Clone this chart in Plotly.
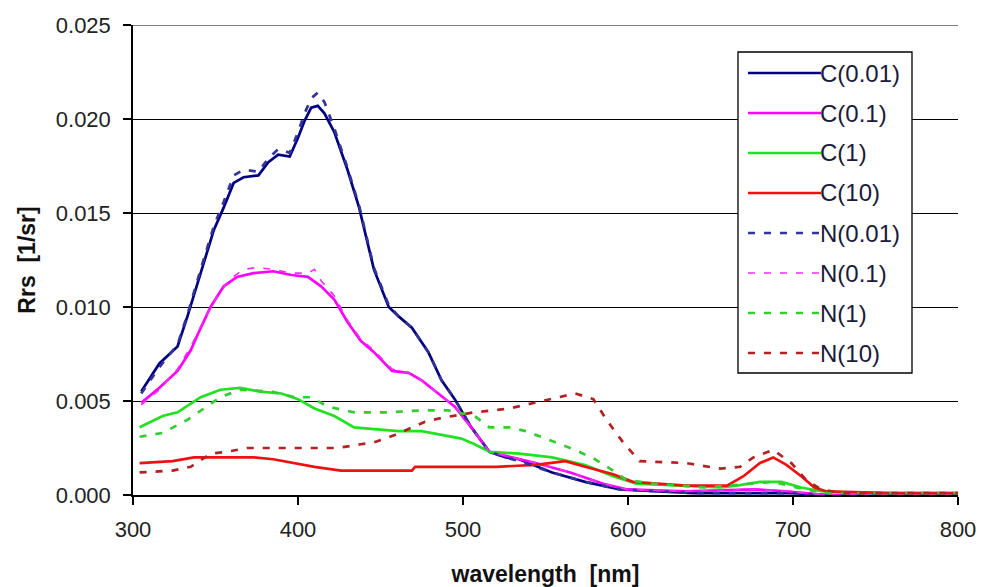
import plotly.graph_objects as go

# ---------------- data ----------------
wl_c001 = [305, 316, 327, 333, 341, 349, 355, 361, 367, 376, 382, 388, 395, 400, 404, 408, 412, 416, 422, 430,
           437, 446, 455, 461, 469, 479, 487, 495, 505, 516, 526, 534, 554, 574, 595, 615, 640, 670, 700, 720, 760, 800]
rrs_c001 = [0.0055, 0.0070, 0.0079, 0.0095, 0.0118, 0.0141, 0.0153, 0.0166, 0.0169, 0.0170, 0.0177, 0.0181, 0.0180,
            0.0190, 0.0199, 0.0206, 0.0207, 0.0203, 0.0193, 0.0173, 0.0153, 0.0120, 0.0100, 0.0095, 0.0089, 0.0076,
            0.0061, 0.0051, 0.0036, 0.0023, 0.0020, 0.0019, 0.0012, 0.0007, 0.0003, 0.0002, 0.0001, 0.0001, 0.0001,
            0.0000, 0.0000, 0.0000]

wl_n001 = wl_c001
rrs_n001 = [0.0054, 0.0068, 0.0080, 0.0096, 0.0120, 0.0143, 0.0156, 0.0170, 0.0173, 0.0172, 0.0179, 0.0184, 0.0182,
            0.0193, 0.0203, 0.0211, 0.0214, 0.0209, 0.0195, 0.0174, 0.0154, 0.0121, 0.0101, 0.0095, 0.0089, 0.0076,
            0.0061, 0.0051, 0.0036, 0.0023, 0.0020, 0.0018, 0.0012, 0.0007, 0.0003, 0.0002, 0.0001, 0.0001, 0.0001,
            0.0000, 0.0000, 0.0000]

wl_c01 = [305, 316, 327, 335, 339, 347, 355, 363, 373, 385, 396, 406, 414, 422, 430, 438, 446, 457, 467, 475, 485,
          495, 505, 516, 544, 565, 585, 599, 635, 676, 696, 720, 760, 800]
rrs_c01 = [0.0049, 0.0057, 0.0066, 0.0077, 0.0085, 0.0100, 0.0111, 0.0116, 0.0118, 0.0119, 0.0117, 0.0116, 0.0111,
           0.0104, 0.0092, 0.0082, 0.0076, 0.0066, 0.0065, 0.0061, 0.0054, 0.0047, 0.0036, 0.0023, 0.0017, 0.0012,
           0.0006, 0.0003, 0.0002, 0.0003, 0.0002, 0.0000, 0.0000, 0.0000]

wl_n01 = [305, 316, 327, 335, 343, 351, 359, 367, 375, 385, 396, 406, 410, 414, 422, 430, 438, 446, 457, 467, 475,
          485, 495, 505, 516, 544, 565, 585, 599, 635, 676, 696, 720, 760, 800]
rrs_n01 = [0.0048, 0.0056, 0.0067, 0.0079, 0.0093, 0.0106, 0.0115, 0.0120, 0.0121, 0.0120, 0.0118, 0.0118, 0.0120,
           0.0114, 0.0106, 0.0093, 0.0083, 0.0077, 0.0067, 0.0065, 0.0061, 0.0054, 0.0047, 0.0036, 0.0023, 0.0017,
           0.0012, 0.0006, 0.0003, 0.0002, 0.0003, 0.0002, 0.0000, 0.0000, 0.0000]

wl_c1 = [304, 318, 327, 341, 353, 365, 377, 390, 400, 410, 422, 434, 446, 461, 475, 487, 499, 507, 516, 534, 554,
         574, 591, 605, 635, 656, 666, 680, 693, 705, 717, 740, 800]
rrs_c1 = [0.0036, 0.0042, 0.0044, 0.0052, 0.0056, 0.0057, 0.0055, 0.0054, 0.0051, 0.0046, 0.0042, 0.0036, 0.0035,
          0.0034, 0.0034, 0.0032, 0.0030, 0.0027, 0.0023, 0.0022, 0.0020, 0.0016, 0.0010, 0.0006, 0.0005, 0.0004,
          0.0005, 0.0007, 0.0007, 0.0004, 0.0002, 0.0001, 0.0001]

wl_n1 = [304, 318, 333, 345, 353, 365, 384, 398, 408, 418, 434, 455, 475, 491, 507, 516, 528, 538, 550, 568, 580,
         591, 599, 615, 646, 676, 688, 707, 720, 800]
rrs_n1 = [0.0031, 0.0033, 0.0040, 0.0047, 0.0052, 0.0056, 0.0055, 0.0052, 0.0052, 0.0047, 0.0044, 0.0044, 0.0045,
          0.0045, 0.0042, 0.0036, 0.0036, 0.0034, 0.0030, 0.0024, 0.0019, 0.0013, 0.0008, 0.0006, 0.0004, 0.0006,
          0.0007, 0.0003, 0.0001, 0.0001]

wl_c10 = [304, 324, 337, 353, 373, 385, 398, 410, 426, 446, 469, 471, 495, 520, 544, 562, 574, 591, 603, 635, 660,
          670, 680, 688, 696, 705, 713, 720, 760, 800]
rrs_c10 = [0.0017, 0.0018, 0.0020, 0.0020, 0.0020, 0.0019, 0.0017, 0.0015, 0.0013, 0.0013, 0.0013, 0.0015, 0.0015,
           0.0015, 0.0016, 0.0018, 0.0015, 0.0011, 0.0007, 0.0005, 0.0005, 0.0010, 0.0017, 0.0020, 0.0016, 0.0010,
           0.0004, 0.0002, 0.0001, 0.0001]

wl_n10 = [304, 324, 335, 347, 357, 369, 394, 424, 438, 446, 459, 467, 477, 487, 507, 528, 548, 558, 568, 579, 587,
          597, 607, 635, 656, 668, 676, 688, 699, 708, 717, 730, 800]
rrs_n10 = [0.0012, 0.0013, 0.0015, 0.0022, 0.0023, 0.0025, 0.0025, 0.0025, 0.0027, 0.0028, 0.0032, 0.0035, 0.0039,
           0.0041, 0.0044, 0.0046, 0.0050, 0.0052, 0.0054, 0.0051, 0.0040, 0.0028, 0.0018, 0.0017, 0.0014, 0.0015,
           0.0020, 0.0024, 0.0017, 0.0008, 0.0003, 0.0001, 0.0001]

series_names = ["C(0.01)", "C(0.1)", "C(1)", "C(10)", "N(0.01)", "N(0.1)", "N(1)", "N(10)"]
series_x = [wl_c001, wl_c01, wl_c1, wl_c10, wl_n001, wl_n01, wl_n1, wl_n10]
series_y = [rrs_c001, rrs_c01, rrs_c1, rrs_c10, rrs_n001, rrs_n01, rrs_n1, rrs_n10]

x_ticks = [300, 400, 500, 600, 700, 800]
y_ticks = [0.000, 0.005, 0.010, 0.015, 0.020, 0.025]

# ---------------- styles ----------------
colors = ["#000080", "#ff00ff", "#22e022", "#ee1111", "#333399", "#ee33ee", "#33cc33", "#b22222"]
widths = [2.7, 2.7, 2.7, 2.7, 2.7, 1.6, 2.7, 2.7]
dashes = ["solid"] * 4 + ["7px,9px"] * 4

FONT = "Liberation Sans, Arial, sans-serif"
W, H = 981, 587
L, R, T, B = 133, 23, 25, 92
PW, PH = W - L - R, H - T - B

fig = go.Figure()
for i in range(8):
    fig.add_trace(go.Scatter(
        x=series_x[i], y=series_y[i], mode="lines", name=series_names[i],
        line=dict(color=colors[i], width=widths[i], dash=dashes[i]),
        showlegend=False))


def px2paper_x(px):
    return (px - L) / PW


def px2paper_y(py):
    return (H - B - py) / PH


# top gridline (at the last y tick)
shapes = [dict(type="line", xref="paper", yref="y", x0=0, x1=1, y0=y_ticks[-1], y1=y_ticks[-1],
               line=dict(color="black", width=1.2), layer="below")]
# manual legend (box + samples + labels)
shapes.append(dict(type="rect", xref="paper", yref="paper",
                   x0=px2paper_x(738), x1=px2paper_x(912), y0=px2paper_y(373), y1=px2paper_y(52),
                   line=dict(color="black", width=1.3), fillcolor="white", layer="above"))
annotations = []
for k in range(8):
    yy = px2paper_y(73 + 40 * k)
    shapes.append(dict(type="line", xref="paper", yref="paper",
                       x0=px2paper_x(748), x1=px2paper_x(821), y0=yy, y1=yy,
                       line=dict(color=colors[k], width=widths[k], dash=dashes[k]), layer="above"))
    annotations.append(dict(xref="paper", yref="paper", x=px2paper_x(818), y=yy, xanchor="left",
                            yanchor="middle", text=series_names[k], showarrow=False,
                            font=dict(family=FONT, size=24, color="#1a1a3a")))

fig.update_layout(
    width=W, height=H,
    margin=dict(l=L, r=R, t=T, b=B, autoexpand=False),
    paper_bgcolor="white", plot_bgcolor="white",
    font=dict(family=FONT, color="#222222"),
    showlegend=False,
    shapes=shapes, annotations=annotations,
    xaxis=dict(range=[300, 800], tickvals=x_ticks, ticktext=[str(v) for v in x_ticks],
               automargin=False,
               showgrid=False, zeroline=False, showline=True, linecolor="black", linewidth=1.5,
               ticks="outside", ticklen=8, tickwidth=1.5, tickcolor="black",
               ticklabelstandoff=6,
               tickfont=dict(family=FONT, size=22, color="#222222"),
               title=dict(text="<b>wavelength&nbsp; [nm]</b>", font=dict(family=FONT, size=23, color="#111111"),
                          standoff=30)),
    yaxis=dict(range=[0, 0.025], tickvals=y_ticks, ticktext=["%.3f" % v for v in y_ticks],
               automargin=False,
               showgrid=True, gridcolor="black", gridwidth=1.2, zeroline=False,
               showline=True, linecolor="black", linewidth=1.5,
               ticks="outside", ticklen=8, tickwidth=1.5, tickcolor="black",
               ticklabelstandoff=8,
               tickfont=dict(family=FONT, size=22, color="#222222"),
               title=dict(text="<b>Rrs&nbsp; [1/sr]</b>", font=dict(family=FONT, size=23, color="#111111"),
                          standoff=14)),
)

fig.write_html("out.html")
